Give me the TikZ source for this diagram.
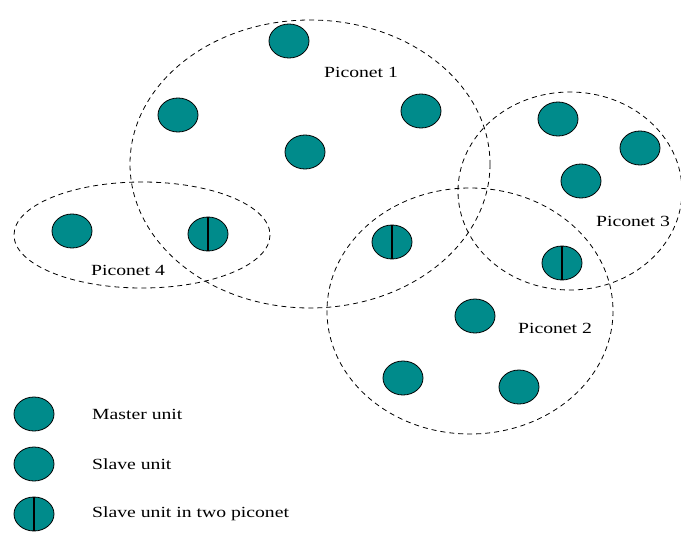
\documentclass[tikz,border=0pt]{standalone}
\usepackage{fontspec}
\setmainfont{Liberation Serif}
\newfontfamily\labelfont[FakeStretch=1.27]{Liberation Serif}
\usetikzlibrary{shapes.geometric}
\definecolor{unitfill}{RGB}{0,139,139}
\tikzset{
  piconet/.style={draw=black, dash pattern=on 5pt off 4pt, line width=0.8pt},
  unit/.style={ellipse, draw=black, fill=unitfill, line width=0.8pt,
               minimum width=40pt, minimum height=34pt, inner sep=0pt},
  bridge/.style={unit, path picture={
      \draw[line width=1.2pt] (path picture bounding box.north) -- (path picture bounding box.south);}},
  lbl/.style={font=\labelfont\fontsize{15.5}{18}\selectfont, inner sep=0pt}
}
\begin{document}
\begin{tikzpicture}[x=1pt,y=-1pt]
  \useasboundingbox (0,0) rectangle (681,538);
  % piconet boundaries
  \draw[piconet] (310,164) ellipse [x radius=180, y radius=144];
  \draw[piconet] (142,235) ellipse [x radius=128, y radius=53];
  \draw[piconet] (570,191) ellipse [x radius=112, y radius=99];
  \draw[piconet] (470,311) ellipse [x radius=143, y radius=123];
  % piconet 1 units
  \node[unit] (a1) at (289,41) {};
  \node[unit] (a2) at (178,115) {};
  \node[unit] (a3) at (421,111) {};
  \node[unit] (a4) at (305,152) {};
  % piconet 4 units
  \node[unit] (d1) at (72,231) {};
  \node[bridge] (d2) at (208,234) {};
  % bridge between piconet 1 and 2
  \node[bridge] (b12) at (392,242) {};
  % piconet 3 units
  \node[unit] (c1) at (558,119) {};
  \node[unit] (c2) at (640,148) {};
  \node[unit] (c3) at (581,181) {};
  \node[bridge] (c4) at (562,263) {};
  % piconet 2 units
  \node[unit] (e1) at (475,316) {};
  \node[unit] (e2) at (403,378) {};
  \node[unit] (e3) at (519,387) {};
  % piconet labels
  \node[lbl] (l1) at (361,72) {Piconet 1};
  \node[lbl] (l4) at (128,270) {Piconet 4};
  \node[lbl] (l3) at (633,221) {Piconet 3};
  \node[lbl] (l2) at (555,328) {Piconet 2};
  % legend
  \node[unit] (k1) at (34,414) {};
  \node[unit] (k2) at (34,464) {};
  \node[bridge] (k3) at (34,514) {};
  \node[lbl, anchor=west] (t1) at (92,414) {Master unit};
  \node[lbl, anchor=west] (t2) at (92,464) {Slave unit};
  \node[lbl, anchor=west] (t3) at (92,514) {Slave unit in two piconet};
\end{tikzpicture}
\end{document}
